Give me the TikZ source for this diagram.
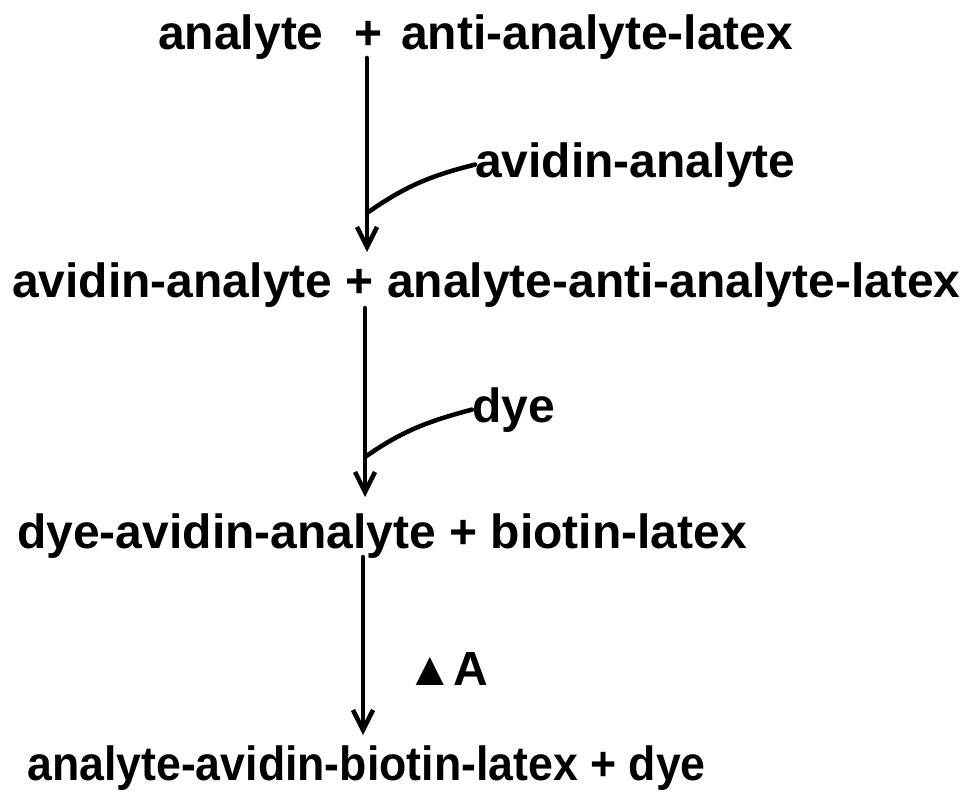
\documentclass[tikz,border=0pt]{standalone}
\usepackage{fontspec}
\setmainfont{Liberation Sans}
\usetikzlibrary{arrows.meta}

\begin{document}
\begin{tikzpicture}[
  x=0.75pt, y=-0.75pt,
  font=\bfseries\fontsize{36}{40}\selectfont,
  chem/.style={anchor=base west, inner sep=0pt},
  arrow/.style={-{Straight Barb[length=15pt,width=15pt]}, line width=3.4pt, line cap=round},
  feed/.style={line width=3.4pt, line cap=round},
]
  \useasboundingbox (0,0) rectangle (969,796);

  % reaction lines
  \node[chem] (stepa) at (158,49)  {analyte\hspace{13pt} + \hspace{4pt}anti-analyte-latex};
  \node[chem] (stepb) at (12,297)  {avidin-analyte + analyte-anti-analyte-latex};
  \node[chem] (stepc) at (17,548)  {dye-avidin-analyte + biotin-latex};
  \node[chem] (stepd) at (27,780)  {\scalebox{0.93}[1]{analyte-avidin-biotin-latex + dye}};

  % reagents added along the arrows
  \node[chem] (avid) at (475,177) {avidin-analyte};
  \node[chem] (dye)  at (472,422) {dye};
  \node[chem] (heat) at (406,685) {▲A};

  \coordinate (a1) at (367,58);  \coordinate (b1) at (367,252); \coordinate (j1) at (367,213);
  \coordinate (a2) at (365,308); \coordinate (b2) at (365,497); \coordinate (j2) at (365,457);
  \coordinate (a3) at (363,557); \coordinate (b3) at (363,735);

  \draw[arrow] (a1) -- (b1);
  \draw[arrow] (a2) -- (b2);
  \draw[arrow] (a3) -- (b3);

  \draw[feed] (avid.west) to[out=194, in=35] (j1);
  \draw[feed] (dye.west)  to[out=195, in=35] (j2);
\end{tikzpicture}
\end{document}
